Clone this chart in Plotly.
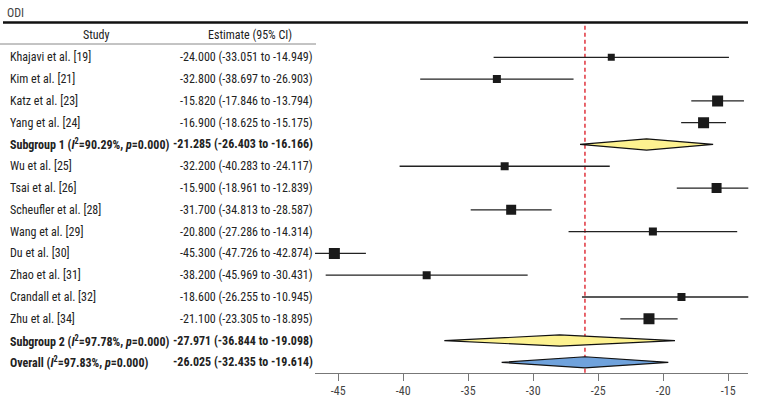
import plotly.graph_objects as go

# ---------------- data ----------------
study_names = ["Khajavi et al. [19]", "Kim et al. [21]", "Katz et al. [23]", "Yang et al. [24]",
               "Wu et al. [25]", "Tsai et al. [26]", "Scheufler et al. [28]", "Wang et al. [29]",
               "Du et al. [30]", "Zhao et al. [31]", "Crandall et al. [32]", "Zhu et al. [34]"]
study_est = [-24.000, -32.800, -15.820, -16.900, -32.200, -15.900, -31.700, -20.800,
             -45.300, -38.200, -18.600, -21.100]
study_lo = [-33.051, -38.697, -17.846, -18.625, -40.283, -18.961, -34.813, -27.286,
            -47.726, -45.969, -26.255, -23.305]
study_hi = [-14.949, -26.903, -13.794, -15.175, -24.117, -12.839, -28.587, -14.314,
            -42.874, -30.431, -10.945, -18.895]

pooled_names = ["Subgroup 1 (<i>I</i><sup>2</sup>=90.29%, <i>p</i>=0.000)",
                "Subgroup 2 (<i>I</i><sup>2</sup>=97.78%, <i>p</i>=0.000)",
                "Overall (<i>I</i><sup>2</sup>=97.83%, <i>p</i>=0.000)"]
pooled_est = [-21.285, -27.971, -26.025]
pooled_lo = [-26.403, -36.844, -32.435]
pooled_hi = [-16.166, -19.098, -19.614]

row_order = ["Khajavi et al. [19]", "Kim et al. [21]", "Katz et al. [23]", "Yang et al. [24]",
             pooled_names[0],
             "Wu et al. [25]", "Tsai et al. [26]", "Scheufler et al. [28]", "Wang et al. [29]",
             "Du et al. [30]", "Zhao et al. [31]", "Crandall et al. [32]", "Zhu et al. [34]",
             pooled_names[1], pooled_names[2]]

tick_vals = [-45, -40, -35, -30, -25, -20, -15]
tick_text = ["-45", "-40", "-35", "-30", "-25", "-20", "-15"]
title_text = "ODI"
header_study = "Study"
header_est = "Estimate (95% CI)"

# ---------------- style ----------------
W, H = 757, 402
FONT = "Roboto Condensed"
FS = 12
square_px = [7, 8, 11, 11, 8, 10, 10, 8, 11, 8, 8, 11]
diamond_fill = ["#fdf290", "#fdf290", "#6fa2dc"]
plot_left, plot_right, plot_top, plot_bottom = 315, 748.3, 23, 372.7
row_top_px, row_step_px = 57.3, 21.79

def px_x(p):
    return p / W

def px_y(p):
    return 1 - p / H

row_y = {name: i for i, name in enumerate(row_order)}
y_top = (plot_top - row_top_px) / row_step_px
y_bot = (plot_bottom - row_top_px) / row_step_px

fig = go.Figure()

# study squares with CI lines
sy = [row_y[n] for n in study_names]
fig.add_trace(go.Scatter(
    x=study_est, y=sy, mode="markers",
    marker=dict(symbol="square", size=square_px, color="#1a1a1a", opacity=1, line=dict(width=0)),
    error_x=dict(type="data", symmetric=False,
                 array=[h - e for h, e in zip(study_hi, study_est)],
                 arrayminus=[e - l for e, l in zip(study_est, study_lo)],
                 color="#222222", thickness=1.3, width=0),
    showlegend=False, hoverinfo="skip"))

# pooled diamonds
half_h = 5.6 / row_step_px
for name, e, lo, hi, fc in zip(pooled_names, pooled_est, pooled_lo, pooled_hi, diamond_fill):
    r = row_y[name]
    fig.add_trace(go.Scatter(
        x=[lo, e, hi, e, lo], y=[r, r - half_h, r, r + half_h, r],
        mode="lines", fill="toself", fillcolor=fc,
        line=dict(color="#111111", width=1.2),
        showlegend=False, hoverinfo="skip"))

# reference dashed line at overall estimate
fig.add_shape(type="line", xref="x", yref="paper",
              x0=pooled_est[2], x1=pooled_est[2], y0=px_y(plot_bottom), y1=px_y(plot_top),
              line=dict(color="#e0323c", width=1.5, dash="4px,3px"), layer="below")

# top thick rule and header rule
fig.add_shape(type="line", xref="paper", yref="paper", x0=px_x(3), x1=px_x(748),
              y0=px_y(22.5), y1=px_y(22.5), line=dict(color="#111111", width=2.6))
fig.add_shape(type="line", xref="paper", yref="paper", x0=0, x1=px_x(316),
              y0=px_y(44), y1=px_y(44), line=dict(color="#888888", width=1))

ann = []
ann.append(dict(text=title_text, x=px_x(5), y=px_y(13), xref="paper", yref="paper",
                xanchor="left", yanchor="middle", showarrow=False,
                font=dict(size=12, color="#444444", family=FONT)))
ann.append(dict(text=header_study, x=px_x(96), y=px_y(35), xref="paper", yref="paper",
                xanchor="center", yanchor="middle", showarrow=False,
                font=dict(size=FS, color="#222222", family=FONT)))
ann.append(dict(text=header_est, x=px_x(250), y=px_y(35), xref="paper", yref="paper",
                xanchor="center", yanchor="middle", showarrow=False,
                font=dict(size=FS, color="#222222", family=FONT)))

est_lookup = {}
for n, e, lo, hi in zip(study_names, study_est, study_lo, study_hi):
    est_lookup[n] = (e, lo, hi, False)
for n, e, lo, hi in zip(pooled_names, pooled_est, pooled_lo, pooled_hi):
    est_lookup[n] = (e, lo, hi, True)

for name in row_order:
    e, lo, hi, bold = est_lookup[name]
    lab = name
    est_txt = f"{e:.3f} ({lo:.3f} to {hi:.3f})"
    if bold:
        lab = f"<b>{lab}</b>"
        est_txt = f"<b>{est_txt}</b>"
    ann.append(dict(text=lab, x=px_x(8), y=row_y[name], xref="paper", yref="y",
                    xanchor="left", yanchor="middle", showarrow=False,
                    font=dict(size=FS, color="#222222", family=FONT)))
    ann.append(dict(text=est_txt, x=px_x(315), y=row_y[name], xref="paper", yref="y",
                    xanchor="right", yanchor="middle", showarrow=False,
                    font=dict(size=FS, color="#222222", family=FONT)))

fig.update_layout(
    width=W, height=H,
    margin=dict(l=0, r=0, t=0, b=0),
    paper_bgcolor="white", plot_bgcolor="white",
    annotations=ann,
    xaxis=dict(domain=[px_x(plot_left), px_x(plot_right)],
               range=[-46.79, -13.46], tickvals=tick_vals, ticktext=tick_text,
               showgrid=False, zeroline=False, showline=True, linecolor="#777777",
               linewidth=1, ticks="outside", ticklen=7, tickcolor="#777777",
               tickfont=dict(size=FS, color="#444444", family=FONT), fixedrange=True),
    yaxis=dict(domain=[px_y(plot_bottom), px_y(plot_top)],
               range=[y_bot, y_top], visible=False, fixedrange=True),
    font=dict(family=FONT),
)

fig.write_html("out.html", config={"displayModeBar": False},
               post_script="document.body.style.margin='0';document.body.style.overflow='hidden';")
